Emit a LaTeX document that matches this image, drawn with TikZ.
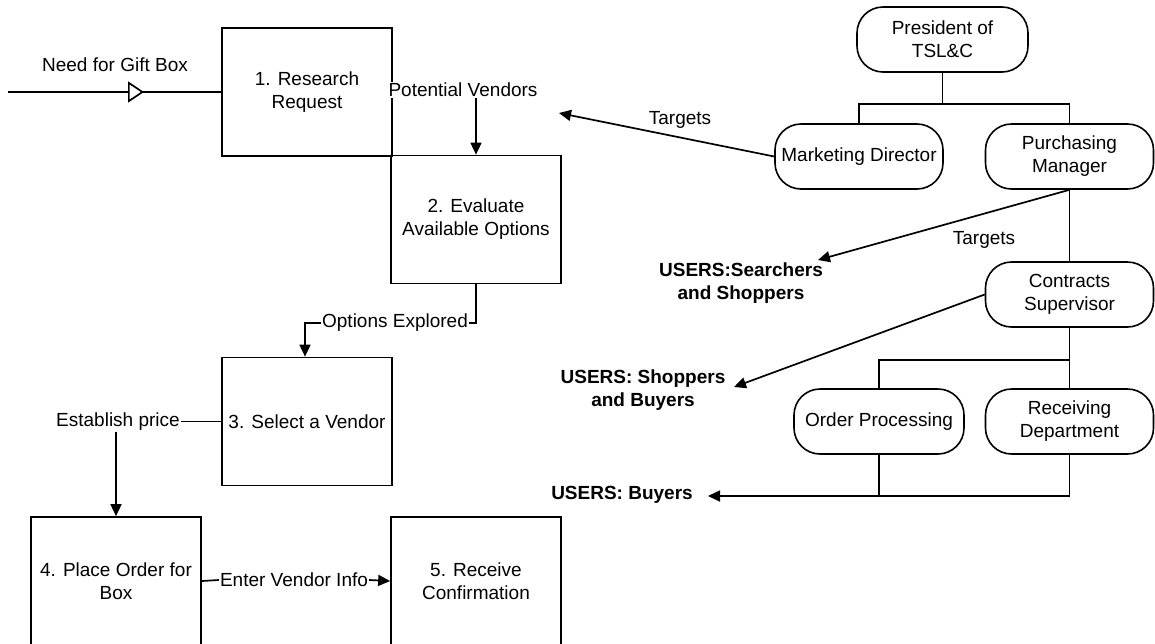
\documentclass[tikz,border=0pt]{standalone}
\usepackage{fontspec}
\setmainfont{Liberation Sans}
\usetikzlibrary{arrows.meta,decorations.markings}
\begin{document}
\begin{tikzpicture}[x=1pt,y=-1pt,
  every node/.style={font=\fontsize{19pt}{23pt}\selectfont, inner sep=1pt},
  line/.style={line width=1.7pt},
  arr/.style={line width=1.7pt,-{Triangle[length=12pt,width=11pt]}},
  procbox/.style={draw,line width=1.7pt,minimum width=170pt,minimum height=128pt,align=center},
  orgbox/.style={draw,line width=1.6pt,rounded corners=26pt,minimum width=168pt,minimum height=65pt,align=center},
  users/.style={font=\fontsize{19pt}{23pt}\selectfont\bfseries,align=center},
  flowmark/.style={postaction={decorate,decoration={markings,
      mark=at position 136pt with {\arrow{Triangle[length=16pt,width=21pt,fill=white]}}}}}]
\useasboundingbox (0,0) rectangle (1155,643);

% ---- process steps ----
\node[procbox] (b1) at (307,92)    {1. Research\\Request};
\node[procbox] (b2) at (476,219.5) {2. Evaluate\\Available Options};
\node[procbox] (b3) at (307,421.5) {3. Select a Vendor};
\node[procbox] (b4) at (116,581)   {4. Place Order for\\Box};
\node[procbox] (b5) at (476,581)   {5. Receive\\Confirmation};

% ---- flow labels (white ground breaks the lines they sit on) ----
\node (need) at (115,65)  {Need for Gift Box};
\node[fill=white] (pv) at (463,90) {Potential Vendors};
\node (oe)   at (395,323) {Options Explored};
\node (ep)   at (118,421.5) {Establish price};
\node (ev)   at (294,580) {Enter Vendor Info};

\coordinate (in) at (8,92);
\draw[line,flowmark] (in) -- (b1.west);
\draw[arr] (b2.north |- pv.south) -- (b2.north);
\draw[line] (b2.south) |- (oe.east);
\draw[arr] (oe.west) -| ([xshift=-2pt]b3.north);
\draw[line] (b3.west) -- (ep.east);
\draw[arr] (b4.north |- ep.south) -- (b4.north);
\draw[line] (b4.east) -- (ev.west);
\draw[arr] (ev.east) -- (b5.west);

% ---- organisation chart ----
\node[orgbox,minimum width=171pt] (pres) at (942.5,39.5) {President of\\TSL\&C};
\node[orgbox] (mkt) at (859,156.5)    {Marketing Director};
\node[orgbox] (pur) at (1069.5,156.5) {Purchasing\\Manager};
\node[orgbox] (con) at (1069.5,294.5) {Contracts\\Supervisor};
\node[orgbox,minimum width=170pt] (op) at (879,421.5) {Order Processing};
\node[orgbox] (rec) at (1069.5,421.5) {Receiving\\Department};

\coordinate (j1) at (942.5,104);
\coordinate (j2) at (1069.5,360);
\draw[line] (pres.south) -- (j1);
\draw[line] (mkt.north) |- (j1) -| (pur.north);
\draw[line] (pur.south) -- (con.north);
\draw[line] (con.south) -- (j2) -| (op.north);
\draw[line] (j2) -- (rec.north);

% ---- user groups ----
\node[users] (u1) at (741,283) {USERS:Searchers\\and Shoppers};
\node[users] (u2) at (643,390) {USERS: Shoppers\\and Buyers};
\node[users] (u3) at (622,495) {USERS: Buyers};

\node (tg1) at (680,120) {Targets};
\node (tg2) at (984,240) {Targets};

\coordinate (t1) at (559,113);
\coordinate (t2) at (818,260);
\coordinate (t3) at (734,387);
\coordinate (t4) at (708,496);

\draw[arr] (mkt.west) -- (t1);
\draw[arr] (pur.south) -- (t2);
\draw[arr] (con.west) -- (t3);
\draw[arr] (rec.south) |- (t4);
\draw[line] (op.south) -- (op.south |- t4);
\end{tikzpicture}
\end{document}
